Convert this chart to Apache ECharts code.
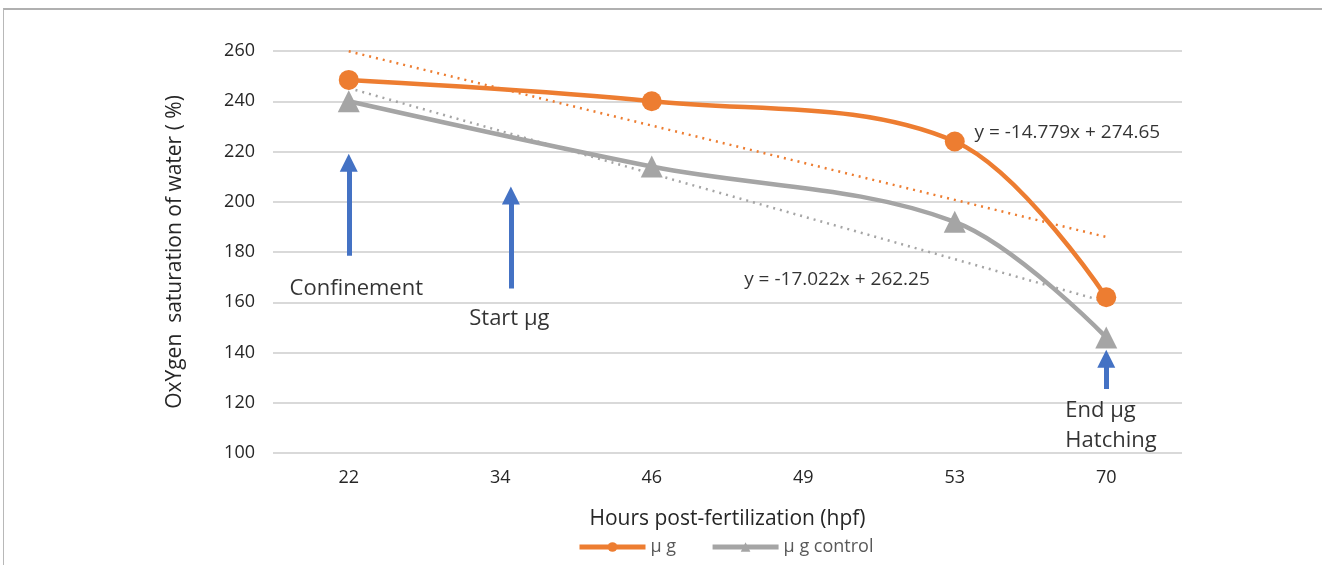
<!DOCTYPE html>
<html>
<head>
<meta charset="utf-8">
<script src="https://cdn.jsdelivr.net/npm/echarts@6/dist/echarts.min.js"></script>
<style>
html,body{margin:0;padding:0;background:#fff;}
#frame{position:absolute;left:3px;top:8px;width:1319px;height:557px;border-top:2px solid #b0b0b0;border-left:1px solid #b8b8b8;}
#chart{position:absolute;left:0;top:0;width:1322px;height:565px;}
</style>
</head>
<body>
<div id="frame"></div>
<div id="chart"></div>
<script>
// ---- data ----
const categories = ['22', '34', '46', '49', '53', '70'];
const ugValues = [248.5, null, 240, null, 224, 162];
const controlValues = [240, null, 214, null, 192, 146];
const ugTrend = { slope: -14.779, intercept: 274.65, label: 'y = -14.779x + 274.65' };
const controlTrend = { slope: -17.022, intercept: 262.25, label: 'y = -17.022x + 262.25' };
const yTicks = { min: 100, max: 260, interval: 20 };
// annotation arrows: [x position (category index), value start, value tip]
const arrows = [[0, 178.5, 215.5], [1.07, 165.5, 202.5], [5, 125.5, 137.5]];
// annotation texts: [x position (category index), value, text]
const notes = [[0.05, 165.5, 'Confinement'], [1.06, 153.6, 'Start µg'], [4.73, 111, 'End µg\nHatching']];
const eqPositions = [[4.13, 227.6], [2.61, 169]];

const trendValues = t => categories.map((c, i) => +(t.intercept + t.slope * (i + 1)).toFixed(3));

const FONT = 'Open Sans';
const chart = echarts.init(document.getElementById('chart'));
chart.setOption({
  animation: false,
  textStyle: { fontFamily: FONT },
  grid: { left: 273, right: 140, top: 51, bottom: 112 },
  legend: {
    bottom: 4, left: 572, itemWidth: 66, itemHeight: 12, itemGap: 34,
    textStyle: { color: '#595959', fontSize: 18 },
    lineStyle: { width: 5 },
    data: ['μ g', 'μ g control']
  },
  xAxis: [{
    type: 'category', data: categories, boundaryGap: true,
    name: 'Hours post-fertilization (hpf)', nameLocation: 'middle', nameGap: 56,
    nameTextStyle: { color: '#262626', fontSize: 21 },
    axisLine: { show: false }, axisTick: { show: false },
    axisLabel: { color: '#262626', fontSize: 18, margin: 16 }
  }, {
    type: 'value', min: -0.5, max: 5.5, show: false
  }],
  yAxis: {
    type: 'value', min: yTicks.min, max: yTicks.max, interval: yTicks.interval,
    name: 'OxYgen  saturation of water ( %)', nameLocation: 'middle', nameGap: 87,
    nameTextStyle: { color: '#262626', fontSize: 21 },
    axisLine: { show: false }, axisTick: { show: false },
    axisLabel: { color: '#262626', fontSize: 18, margin: 18 },
    splitLine: { lineStyle: { color: '#d9d9d9', width: 2 } }
  },
  series: [
    {
      name: 'μ g trend', type: 'line', data: trendValues(ugTrend), symbol: 'none', silent: true,
      lineStyle: { color: '#ED7D31', width: 2.5, type: [2, 5] }, z: 1
    },
    {
      name: 'μ g control trend', type: 'line', data: trendValues(controlTrend), symbol: 'none', silent: true,
      lineStyle: { color: '#A5A5A5', width: 2.5, type: [2, 5] }, z: 1
    },
    {
      name: 'μ g control', type: 'line', data: controlValues, connectNulls: true, smooth: 0.35,
      symbol: 'triangle', symbolSize: 22,
      itemStyle: { color: '#A5A5A5' }, lineStyle: { color: '#A5A5A5', width: 4.5 }, z: 3
    },
    {
      name: 'μ g', type: 'line', data: ugValues, connectNulls: true, smooth: 0.35,
      symbol: 'circle', symbolSize: 20,
      itemStyle: { color: '#ED7D31' }, lineStyle: { color: '#ED7D31', width: 4.5 }, z: 4
    },
    {
      name: 'arrows', type: 'lines', coordinateSystem: 'cartesian2d', xAxisIndex: 1, yAxisIndex: 0,
      symbol: ['none', 'triangle'], symbolSize: [18, 18], silent: true,
      lineStyle: { color: '#4472C4', width: 5, opacity: 1 },
      data: arrows.map(a => ({ coords: [[a[0], a[1]], [a[0], a[2]]] })), z: 5
    },
    {
      name: 'notes', type: 'scatter', xAxisIndex: 1, symbolSize: 0, silent: true,
      data: notes.map(n => ({ value: [n[0], n[1]], name: n[2],
        label: { align: n[2].indexOf('\n') >= 0 ? 'left' : 'center' } })),
      label: { show: true, position: 'inside', formatter: p => p.name, color: '#000', fontSize: 22, lineHeight: 30 },
      z: 6
    },
    {
      name: 'equations', type: 'scatter', xAxisIndex: 1, symbolSize: 0, silent: true,
      data: [ { value: eqPositions[0], name: ugTrend.label }, { value: eqPositions[1], name: controlTrend.label } ],
      label: { show: true, position: 'inside', align: 'left', formatter: p => p.name, color: '#000', fontSize: 19 },
      z: 6
    }
  ]
});
</script>
</body>
</html>
